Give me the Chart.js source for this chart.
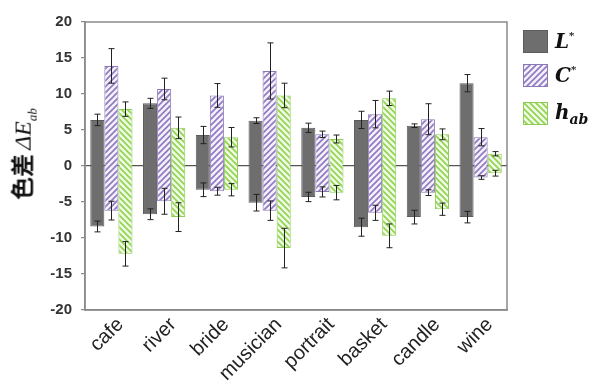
<!DOCTYPE html>
<html>
<head>
<meta charset="utf-8">
<script src="https://cdn.jsdelivr.net/npm/chart.js@4.4.0/dist/chart.umd.min.js"></script>
<style>
  body { margin: 0; background: #fff; }
  #wrap { position: relative; width: 595px; height: 388px; }
  #ytitle {
    position: absolute; left: 22px; top: 154px;
    transform: translate(-50%, -50%) rotate(-90deg);
    white-space: nowrap; color: #111;
  }
  #ytitle .cjk { font-family: "Noto Sans CJK JP", "Noto Sans CJK SC", sans-serif; font-weight: bold; font-size: 23px; }
  #ytitle .sym { font-family: "Liberation Serif", serif; font-style: italic; font-size: 24px; }
  #ytitle sub { font-size: 13px; }
  .leg { position: absolute; left: 523px; display: flex; align-items: center; }
  .sw { width: 25px; height: 23px; box-sizing: border-box; }
  .lab { margin-left: 7px; font-family: "DejaVu Serif", serif; font-weight: bold; font-style: italic; font-size: 20px; color: #111; }
  .lab sup { font-size: 10px; vertical-align: 9px; }
  .lab sub { font-size: 14px; }
</style>
</head>
<body>
<div id="wrap">
  <canvas id="chart" width="595" height="388"></canvas>
  <div id="ytitle"><span class="cjk">色差</span> <span class="sym">ΔE<sub>ab</sub></span></div>
  <div class="leg" style="top:29px"><div class="sw" id="sw0"></div><div class="lab">L<sup>*</sup></div></div>
  <div class="leg" style="top:63px"><div class="sw" id="sw1"></div><div class="lab">C<sup>*</sup></div></div>
  <div class="leg" style="top:100px"><div class="sw" id="sw2"></div><div class="lab">h<sub>ab</sub></div></div>
</div>
<script>
// categorias e valores
const categories = ['cafe', 'river', 'bride', 'musician', 'portrait', 'basket', 'candle', 'wine'];

const lTop       = [6.4, 8.7, 4.3, 6.3, 5.3, 6.4, 5.6, 11.5];
const lBottom    = [-8.4, -6.7, -3.3, -5.1, -4.3, -8.5, -7.1, -7.1];
const lTopErr    = [0.8, 0.7, 1.2, 0.4, 0.65, 1.2, 0.25, 1.2];
const lBottomErr = [0.75, 0.75, 0.95, 1.15, 0.65, 1.25, 0.95, 0.8];

const cTop       = [13.9, 10.7, 9.8, 13.2, 4.4, 7.2, 6.5, 4.0];
const cBottom    = [-6.2, -4.9, -3.5, -6.2, -3.6, -6.5, -3.7, -1.6];
const cTopErr    = [2.4, 1.5, 1.65, 3.9, 0.45, 1.9, 2.15, 1.2];
const cBottomErr = [1.3, 1.8, 0.55, 1.35, 0.7, 1.05, 0.4, 0.25];

const hTop       = [7.9, 5.3, 4.0, 9.8, 3.75, 9.4, 4.4, 1.7];
const hBottom    = [-12.2, -7.1, -3.3, -11.4, -3.7, -9.7, -6.0, -1.0];
const hTopErr    = [1.0, 1.5, 1.35, 1.7, 0.55, 1.0, 0.75, 0.3];
const hBottomErr = [1.7, 2.0, 0.85, 2.75, 1.0, 1.65, 0.85, 0.4];

const yTicks = [-20, -15, -10, -5, 0, 5, 10, 15, 20];

// padrão hachurado
function makeHatch(bg, line, dir) {
    const c = document.createElement('canvas');
    c.width = 6; c.height = 6;
    const g = c.getContext('2d');
    g.fillStyle = bg;
    g.fillRect(0, 0, 6, 6);
    g.strokeStyle = line;
    g.lineWidth = 1.6;
    g.beginPath();
    if (dir === '/') {
        g.moveTo(0, 6); g.lineTo(6, 0);
        g.moveTo(-1, 1); g.lineTo(1, -1);
        g.moveTo(5, 7); g.lineTo(7, 5);
    } else {
        g.moveTo(0, 0); g.lineTo(6, 6);
        g.moveTo(-1, 5); g.lineTo(1, 7);
        g.moveTo(5, -1); g.lineTo(7, 1);
    }
    g.stroke();
    return c;
}

const ctx = document.getElementById('chart').getContext('2d');
const purpleTile = makeHatch('#f4f0fa', '#8f78c2', '/');
const greenTile = makeHatch('#f0fae6', '#8fd44c', '\\');
const purpleHatch = ctx.createPattern(purpleTile, 'repeat');
const greenHatch = ctx.createPattern(greenTile, 'repeat');

document.getElementById('sw0').style.cssText += 'background:#6e6e6e;border:1px solid #5c5c5c;';
document.getElementById('sw1').style.cssText += 'background:url(' + purpleTile.toDataURL() + ');border:1px solid #8a79b5;';
document.getElementById('sw2').style.cssText += 'background:url(' + greenTile.toDataURL() + ');border:1px solid #8ccc55;';

function floating(bottom, top) {
    return bottom.map((b, i) => [b, top[i]]);
}

// barras de erro nas duas pontas
const errorBars = {
    id: 'errorBars',
    afterDatasetsDraw(chart) {
        const y = chart.scales.y;
        const g = chart.ctx;
        g.save();
        g.strokeStyle = '#222';
        g.lineWidth = 1;
        chart.data.datasets.forEach((ds, i) => {
            const meta = chart.getDatasetMeta(i);
            meta.data.forEach((bar, j) => {
                const pairs = [[ds.data[j][1], ds.errTop[j]], [ds.data[j][0], ds.errBottom[j]]];
                pairs.forEach(([v, e]) => {
                    const y1 = y.getPixelForValue(v + e);
                    const y2 = y.getPixelForValue(v - e);
                    const x = Math.round(bar.x) + 0.5;
                    g.beginPath();
                    g.moveTo(x, y1); g.lineTo(x, y2);
                    g.moveTo(x - 3, y1); g.lineTo(x + 3, y1);
                    g.moveTo(x - 3, y2); g.lineTo(x + 3, y2);
                    g.stroke();
                });
            });
        });
        g.restore();
    }
};

const frame = {
    id: 'frame',
    afterDraw(chart) {
        const a = chart.chartArea;
        const g = chart.ctx;
        g.save();
        g.strokeStyle = '#8a8a8a';
        g.lineWidth = 1.5;
        g.strokeRect(a.left, a.top, a.right - a.left, a.bottom - a.top);
        g.restore();
    }
};

new Chart(ctx, {
    type: 'bar',
    data: {
        labels: categories,
        datasets: [{
            label: 'L*',
            data: floating(lBottom, lTop),
            errTop: lTopErr, errBottom: lBottomErr,
            backgroundColor: '#6e6e6e',
            borderColor: '#5c5c5c',
            borderWidth: 1,
            borderSkipped: false
        }, {
            label: 'C*',
            data: floating(cBottom, cTop),
            errTop: cTopErr, errBottom: cBottomErr,
            backgroundColor: purpleHatch,
            borderColor: '#8a79b5',
            borderWidth: 1,
            borderSkipped: false
        }, {
            label: 'hab',
            data: floating(hBottom, hTop),
            errTop: hTopErr, errBottom: hBottomErr,
            backgroundColor: greenHatch,
            borderColor: '#8ccc55',
            borderWidth: 1,
            borderSkipped: false
        }]
    },
    options: {
        responsive: false,
        animation: false,
        layout: { padding: { top: 22, right: 88, left: 0, bottom: 0 } },
        datasets: { bar: { categoryPercentage: 0.8, barPercentage: 1.0 } },
        plugins: { legend: { display: false }, tooltip: { enabled: false } },
        scales: {
            x: {
                grid: { display: false },
                border: { display: true, color: '#8a8a8a', width: 1.5 },
                ticks: {
                    minRotation: 45, maxRotation: 45, color: '#222', padding: -5, labelOffset: 9,
                    font: { family: 'Liberation Sans', size: 20 }
                },
                afterFit: s => { s.height = 78; }
            },
            y: {
                min: -20, max: 20,
                afterBuildTicks: s => { s.ticks = yTicks.map(v => ({ value: v })); },
                grid: {
                    color: c => (c.tick && c.tick.value === 0 ? '#555' : 'transparent'),
                    tickColor: '#8a8a8a', tickLength: 4, lineWidth: 1.2
                },
                border: { display: true, color: '#8a8a8a', width: 1.5 },
                ticks: {
                    color: '#333', padding: 9,
                    font: { family: 'Liberation Sans', size: 15, weight: 'bold' }
                },
                afterFit: s => { s.width = 85; }
            }
        }
    },
    plugins: [errorBars, frame]
});
</script>
</body>
</html>
